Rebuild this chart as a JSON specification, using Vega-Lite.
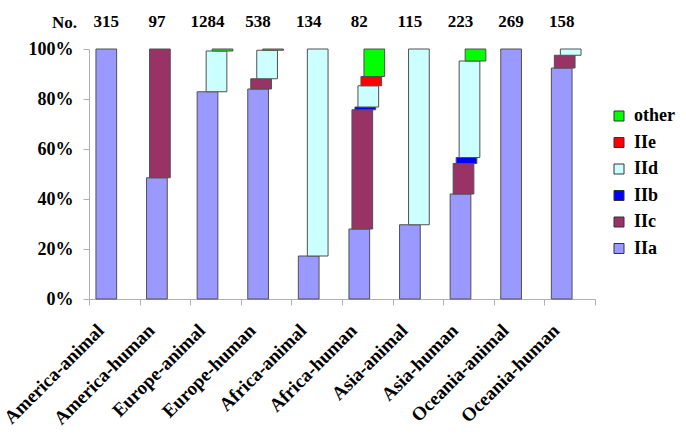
{
  "$schema": "https://vega.github.io/schema/vega-lite/v6.json",
  "autosize": "none",
  "width": 506,
  "height": 250,
  "padding": {"left": 89, "top": 49, "right": 91, "bottom": 138},
  "background": "white",
  "config": {
    "view": {"stroke": null},
    "font": "Liberation Serif",
    "axis": {"grid": false, "domainColor": "#b0b0b0", "tickColor": "#b0b0b0", "labelFont": "Liberation Serif", "labelFontWeight": "bold", "labelColor": "black", "titleFont": "Liberation Serif", "titleFontWeight": "bold", "titleColor": "black"},
    "legend": {"labelFont": "Liberation Serif", "labelFontWeight": "bold", "labelColor": "black"}
  },
  "datasets": {
    "comp": [
      {"group": "America-animal", "type": "IIa", "pct": 100},
      {"group": "America-human", "type": "IIa", "pct": 48.5},
      {"group": "America-human", "type": "IIc", "pct": 51.5},
      {"group": "Europe-animal", "type": "IIa", "pct": 82.9},
      {"group": "Europe-animal", "type": "IId", "pct": 16.3},
      {"group": "Europe-animal", "type": "other", "pct": 0.8},
      {"group": "Europe-human", "type": "IIa", "pct": 84.0},
      {"group": "Europe-human", "type": "IIc", "pct": 4.1},
      {"group": "Europe-human", "type": "IId", "pct": 11.4},
      {"group": "Europe-human", "type": "other", "pct": 0.5},
      {"group": "Africa-animal", "type": "IIa", "pct": 17.2},
      {"group": "Africa-animal", "type": "IId", "pct": 82.8},
      {"group": "Africa-human", "type": "IIa", "pct": 28.0},
      {"group": "Africa-human", "type": "IIc", "pct": 47.7},
      {"group": "Africa-human", "type": "IIb", "pct": 1.1},
      {"group": "Africa-human", "type": "IId", "pct": 8.5},
      {"group": "Africa-human", "type": "IIe", "pct": 3.7},
      {"group": "Africa-human", "type": "other", "pct": 11.0},
      {"group": "Asia-animal", "type": "IIa", "pct": 29.7},
      {"group": "Asia-animal", "type": "IId", "pct": 70.3},
      {"group": "Asia-human", "type": "IIa", "pct": 42.0},
      {"group": "Asia-human", "type": "IIc", "pct": 12.2},
      {"group": "Asia-human", "type": "IIb", "pct": 2.4},
      {"group": "Asia-human", "type": "IId", "pct": 38.6},
      {"group": "Asia-human", "type": "other", "pct": 4.8},
      {"group": "Oceania-animal", "type": "IIa", "pct": 100},
      {"group": "Oceania-human", "type": "IIa", "pct": 92.4},
      {"group": "Oceania-human", "type": "IIc", "pct": 5.1},
      {"group": "Oceania-human", "type": "IId", "pct": 2.5}
    ],
    "counts": [
      {"group": "America-animal", "n": 315},
      {"group": "America-human", "n": 97},
      {"group": "Europe-animal", "n": 1284},
      {"group": "Europe-human", "n": 538},
      {"group": "Africa-animal", "n": 134},
      {"group": "Africa-human", "n": 82},
      {"group": "Asia-animal", "n": 115},
      {"group": "Asia-human", "n": 223},
      {"group": "Oceania-animal", "n": 269},
      {"group": "Oceania-human", "n": 158}
    ]
  },
  "layer": [
    {
      "data": {"name": "comp"},
      "transform": [
        {"calculate": "indexof(['IIa','IIc','IIb','IId','IIe','other'], datum.type)", "as": "rank"},
        {"stack": "pct", "groupby": ["group"], "sort": [{"field": "rank", "order": "ascending"}], "offset": "normalize", "as": ["lo", "hi"]}
      ],
      "mark": {"type": "bar", "width": 20.7, "stroke": "#505050", "strokeWidth": 1},
      "encoding": {
        "x": {
          "field": "group", "type": "nominal", "sort": null,
          "scale": {"paddingInner": 0, "paddingOuter": 0},
          "axis": {"title": null, "labelAngle": -45, "labelFontSize": 19, "tickSize": 6, "tickBand": "extent", "labelPadding": 22, "labelOffset": -14, "labelAlign": "right", "labelBaseline": "middle", "labelBound": false, "labelOverlap": false}
        },
        "xOffset": {
          "field": "type", "type": "nominal",
          "scale": {"type": "point", "domain": ["IIa", "IIc", "IIb", "IId", "IIe", "other"], "range": [17.3, 32.3], "padding": 0}
        },
        "y": {
          "field": "lo", "type": "quantitative",
          "scale": {"domain": [0, 1], "nice": false},
          "axis": {"format": ".0%", "values": [0, 0.2, 0.4, 0.6, 0.8, 1], "labelFontSize": 18, "tickSize": 6, "labelPadding": 10, "title": "No.", "titleAngle": 0, "titleX": -25, "titleY": -27, "titleAlign": "center", "titleBaseline": "middle", "titleFontSize": 17}
        },
        "y2": {"field": "hi"},
        "color": {
          "field": "type", "type": "nominal",
          "scale": {"domain": ["other", "IIe", "IId", "IIb", "IIc", "IIa"], "range": ["#00FF00", "#FF0000", "#CCFFFF", "#0000FF", "#993366", "#9999FF"]},
          "legend": {"title": null, "orient": "none", "legendX": 521, "legendY": 58, "symbolType": "square", "symbolSize": 100, "symbolStrokeColor": "#333333", "symbolStrokeWidth": 1, "labelFontSize": 18, "rowPadding": 8.5, "labelOffset": 6, "padding": 0}
        }
      }
    },
    {
      "data": {"name": "counts"},
      "mark": {"type": "text", "fontSize": 17, "fontWeight": "bold", "font": "Liberation Serif", "baseline": "middle", "align": "center", "color": "black"},
      "encoding": {
        "x": {"field": "group", "type": "nominal", "sort": null},
        "xOffset": {"datum": "IIa"},
        "y": {"datum": 1.109, "type": "quantitative"},
        "text": {"field": "n", "type": "quantitative"}
      }
    }
  ]
}
